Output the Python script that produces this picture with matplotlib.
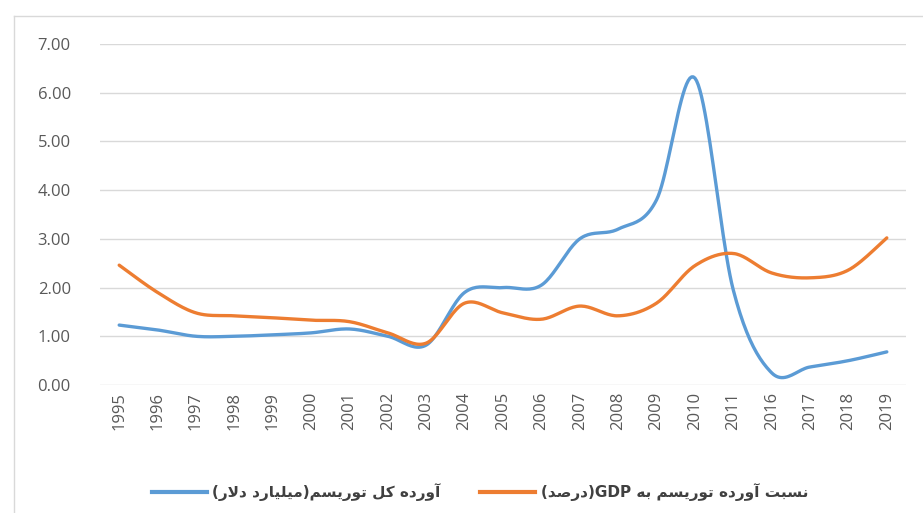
#!/usr/bin/env python3
"""
tourism revenue vs share of GDP, smoothed lines like the Excel original
"""
import re
import numpy as np
import matplotlib
matplotlib.use("Agg")
import matplotlib.pyplot as plt
from matplotlib.lines import Line2D

years = ["1995", "1996", "1997", "1998", "1999", "2000", "2001", "2002", "2003", "2004",
         "2005", "2006", "2007", "2008", "2009", "2010", "2011", "2016", "2017", "2018", "2019"]
revenue = [1.23, 1.13, 1.00, 1.00, 1.03, 1.07, 1.15, 1.00, 0.82, 1.90,
           2.00, 2.05, 3.00, 3.20, 3.80, 6.30, 1.95, 0.25, 0.37, 0.50, 0.68]
share_gdp = [2.46, 1.90, 1.48, 1.42, 1.38, 1.33, 1.30, 1.07, 0.86, 1.68,
             1.48, 1.35, 1.62, 1.42, 1.68, 2.45, 2.70, 2.30, 2.20, 2.36, 3.02]
label_revenue = "آورده کل توریسم(میلیارد دلار)"
label_share = "نسبت آورده توریسم به GDP(درصد)"
yticks = [0, 1, 2, 3, 4, 5, 6, 7]

# matplotlib has no arabic shaping -> do it by hand with presentation forms
# (isolated, final, initial, medial)
FORMS = {
    "ا": ("\uFE8D", "\uFE8E"), "آ": ("\uFE81", "\uFE82"),
    "د": ("\uFEA9", "\uFEAA"), "ر": ("\uFEAD", "\uFEAE"), "و": ("\uFEED", "\uFEEE"),
    "ب": ("\uFE8F", "\uFE90", "\uFE91", "\uFE92"), "ت": ("\uFE95", "\uFE96", "\uFE97", "\uFE98"),
    "س": ("\uFEB1", "\uFEB2", "\uFEB3", "\uFEB4"), "ص": ("\uFEB9", "\uFEBA", "\uFEBB", "\uFEBC"),
    "ل": ("\uFEDD", "\uFEDE", "\uFEDF", "\uFEE0"), "م": ("\uFEE1", "\uFEE2", "\uFEE3", "\uFEE4"),
    "ن": ("\uFEE5", "\uFEE6", "\uFEE7", "\uFEE8"), "ه": ("\uFEE9", "\uFEEA", "\uFEEB", "\uFEEC"),
    "ک": ("\uFB8E", "\uFB8F", "\uFB90", "\uFB91"), "ی": ("\uFBFC", "\uFBFD", "\uFBFE", "\uFBFF"),
}
LAMALEF = {"ا": ("\uFEFB", "\uFEFC"), "آ": ("\uFEF5", "\uFEF6")}
MIRROR = {"(": ")", ")": "("}


def dual(c):
    return c in FORMS and len(FORMS[c]) == 4


def shape(txt):
    out = []
    i = 0
    while i < len(txt):
        c = txt[i]
        prev = txt[i-1] if i > 0 else ""
        nxt = txt[i+1] if i+1 < len(txt) else ""
        jp = dual(prev)
        if c == "ل" and nxt in LAMALEF:
            out.append(LAMALEF[nxt][1 if jp else 0])
            i += 2
            continue
        if c in FORMS:
            f = FORMS[c]
            jn = nxt in FORMS and len(f) == 4
            if jp and jn:
                out.append(f[3])
            elif jn:
                out.append(f[2])
            elif jp:
                out.append(f[1])
            else:
                out.append(f[0])
        else:
            out.append(c)
        i += 1
    s = "".join(out)
    toks = re.findall(r"[A-Za-z0-9]+|.", s)
    toks = [MIRROR.get(t, t) for t in toks[::-1]]
    return "".join(toks)


def smooth(vals, n=24):
    p = np.column_stack([np.arange(len(vals)), vals]).astype(float)
    segs = []
    for i in range(len(p)-1):
        p0 = p[i-1] if i > 0 else p[i]
        p3 = p[i+2] if i+2 < len(p) else p[i+1]
        c1 = p[i] + (p[i+1]-p0)/6
        c2 = p[i+1] - (p3-p[i])/6
        t = np.linspace(0, 1, n)[:, None]
        seg = (1-t)**3*p[i] + 3*(1-t)**2*t*c1 + 3*(1-t)*t**2*c2 + t**3*p[i+1]
        segs.append(seg if i == 0 else seg[1:])
    return np.vstack(segs)


plt.rcParams["font.family"] = ["Open Sans", "DejaVu Sans"]

W, H = 923, 513
fig = plt.figure(figsize=(W/100, H/100), dpi=100)
ax = fig.add_axes([100/W, 1-385/H, 806/W, 341/H])

blue = "#5B9BD5"
orange = "#ED7D31"

c = smooth(revenue)
ax.plot(c[:, 0], c[:, 1], color=blue, lw=2.4, solid_capstyle="round", clip_on=False, zorder=3)
c = smooth(share_gdp)
ax.plot(c[:, 0], c[:, 1], color=orange, lw=2.4, solid_capstyle="round", clip_on=False, zorder=3)

ax.set_xlim(-0.5, len(years)-0.5)
ax.set_ylim(0, 7)
ax.set_yticks(yticks)
ax.set_yticklabels(["%.2f" % v for v in yticks])
ax.set_xticks(range(len(years)))
ax.set_xticklabels(years, rotation=90)
ax.grid(axis="y", color="#d9d9d9", lw=1)
ax.set_axisbelow(True)
for s in ax.spines.values():
    s.set_visible(False)
ax.tick_params(length=0, labelcolor="#595959", labelsize=12)
ax.tick_params(axis="y", pad=21)
ax.tick_params(axis="x", pad=5)

# chart area border (cropped on right and bottom)
fig.add_artist(Line2D([14/W, 14/W], [0, 1-16/H], color="#d9d9d9", lw=1))
fig.add_artist(Line2D([14/W, 1], [1-16/H, 1-16/H], color="#d9d9d9", lw=1))

handles = [Line2D([], [], color=blue, lw=3), Line2D([], [], color=orange, lw=3)]
leg = fig.legend(handles, [shape(label_revenue), shape(label_share)], ncol=2, frameon=False,
                 loc="center", bbox_to_anchor=(480/W, 1-492/H),
                 prop={"family": ["DejaVu Sans"], "size": 11, "weight": "bold"},
                 handlelength=3.6, handletextpad=0.35, columnspacing=2.6, labelcolor="#404040")

fig.savefig("out.png", dpi=100)
